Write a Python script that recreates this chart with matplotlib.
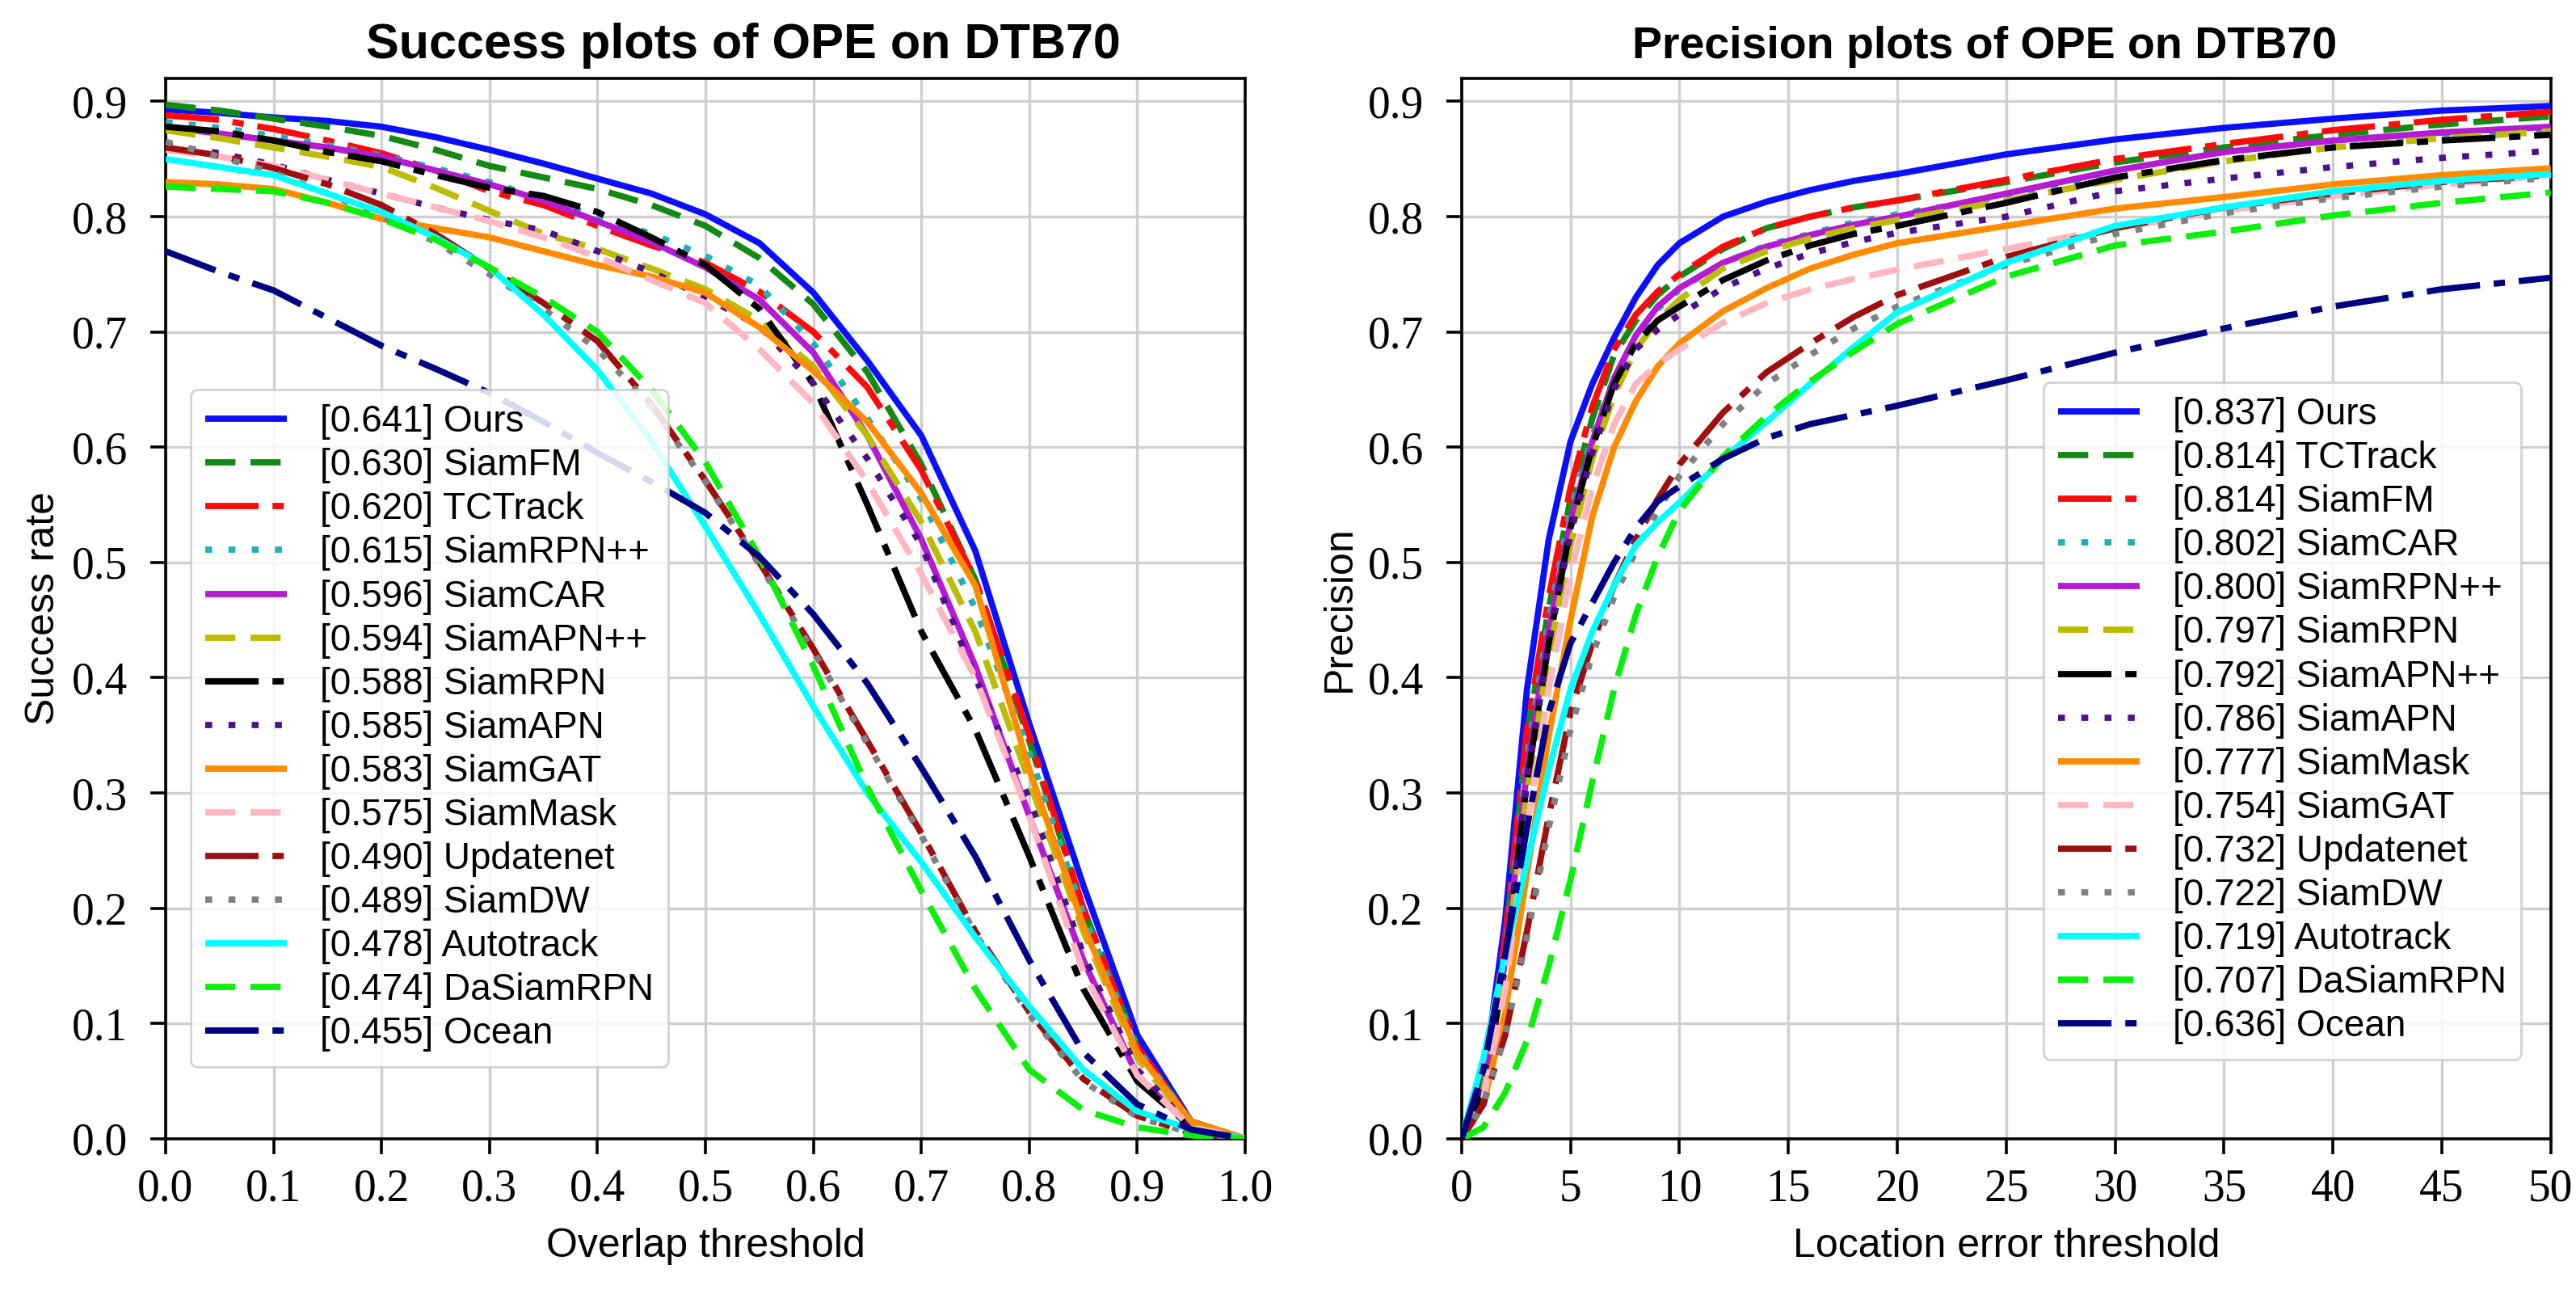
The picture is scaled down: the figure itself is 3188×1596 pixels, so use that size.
import matplotlib
matplotlib.use("Agg")
import matplotlib.pyplot as plt
import numpy as np

# ---------------- data ----------------
succ_x = [0.0, 0.05, 0.1, 0.15, 0.2, 0.25, 0.3, 0.35, 0.4, 0.45, 0.5,
          0.55, 0.6, 0.65, 0.7, 0.75, 0.8, 0.85, 0.9, 0.95, 1.0]

succ_names = ["Ours", "SiamFM", "TCTrack", "SiamRPN++", "SiamCAR", "SiamAPN++",
              "SiamRPN", "SiamAPN", "SiamGAT", "SiamMask", "Updatenet", "SiamDW",
              "Autotrack", "DaSiamRPN", "Ocean"]
succ_scores = [0.641, 0.630, 0.620, 0.615, 0.596, 0.594, 0.588, 0.585, 0.583,
               0.575, 0.490, 0.489, 0.478, 0.474, 0.455]

succ_ours = [0.893, 0.890, 0.886, 0.883, 0.878, 0.869, 0.858, 0.846, 0.833, 0.820, 0.802,
             0.777, 0.734, 0.675, 0.610, 0.510, 0.360, 0.220, 0.090, 0.015, 0.0]
succ_siamfm = [0.897, 0.892, 0.885, 0.878, 0.870, 0.858, 0.844, 0.834, 0.824, 0.810, 0.792,
               0.764, 0.724, 0.665, 0.585, 0.485, 0.345, 0.200, 0.080, 0.015, 0.0]
succ_tctrack = [0.888, 0.884, 0.876, 0.866, 0.855, 0.840, 0.822, 0.810, 0.792, 0.775, 0.760,
                0.735, 0.700, 0.652, 0.580, 0.485, 0.350, 0.200, 0.080, 0.015, 0.0]
succ_siamrpnpp = [0.882, 0.877, 0.870, 0.862, 0.853, 0.842, 0.830, 0.815, 0.800, 0.785, 0.766,
                  0.740, 0.690, 0.625, 0.555, 0.460, 0.335, 0.195, 0.078, 0.015, 0.0]
succ_siamcar = [0.878, 0.872, 0.866, 0.860, 0.852, 0.840, 0.828, 0.814, 0.796, 0.778, 0.756,
                0.728, 0.682, 0.610, 0.520, 0.410, 0.280, 0.155, 0.055, 0.010, 0.0]
succ_siamapnpp = [0.875, 0.868, 0.860, 0.852, 0.843, 0.825, 0.805, 0.785, 0.772, 0.755, 0.737,
                  0.710, 0.670, 0.610, 0.535, 0.440, 0.310, 0.180, 0.070, 0.013, 0.0]
succ_siamrpn = [0.878, 0.874, 0.866, 0.856, 0.848, 0.836, 0.825, 0.818, 0.804, 0.782, 0.758,
                0.720, 0.655, 0.550, 0.440, 0.355, 0.245, 0.130, 0.050, 0.010, 0.0]
succ_siamapn = [0.862, 0.855, 0.845, 0.832, 0.820, 0.808, 0.797, 0.788, 0.770, 0.752, 0.730,
                0.705, 0.655, 0.590, 0.515, 0.400, 0.295, 0.160, 0.060, 0.012, 0.0]
succ_siamgat = [0.830, 0.828, 0.824, 0.812, 0.798, 0.790, 0.782, 0.770, 0.758, 0.748, 0.734,
                0.704, 0.666, 0.622, 0.560, 0.480, 0.320, 0.185, 0.075, 0.015, 0.0]
succ_siammask = [0.858, 0.852, 0.844, 0.832, 0.820, 0.808, 0.796, 0.782, 0.765, 0.745, 0.725,
                 0.685, 0.638, 0.570, 0.490, 0.400, 0.280, 0.145, 0.055, 0.010, 0.0]
succ_updatenet = [0.860, 0.853, 0.842, 0.828, 0.810, 0.785, 0.755, 0.725, 0.692, 0.637, 0.571,
                  0.500, 0.425, 0.345, 0.265, 0.180, 0.110, 0.052, 0.020, 0.005, 0.0]
succ_siamdw = [0.865, 0.852, 0.838, 0.820, 0.800, 0.778, 0.750, 0.720, 0.685, 0.635, 0.570,
               0.498, 0.423, 0.343, 0.263, 0.178, 0.108, 0.050, 0.019, 0.005, 0.0]
succ_autotrack = [0.850, 0.843, 0.836, 0.820, 0.804, 0.782, 0.756, 0.715, 0.667, 0.605, 0.531,
                  0.455, 0.375, 0.300, 0.240, 0.175, 0.115, 0.060, 0.024, 0.008, 0.0]
succ_dasiamrpn = [0.826, 0.824, 0.822, 0.812, 0.798, 0.780, 0.756, 0.730, 0.700, 0.650, 0.587,
                  0.505, 0.410, 0.305, 0.215, 0.130, 0.060, 0.025, 0.010, 0.003, 0.0]
succ_ocean = [0.770, 0.752, 0.736, 0.712, 0.688, 0.668, 0.647, 0.622, 0.595, 0.570, 0.543,
              0.505, 0.455, 0.395, 0.322, 0.245, 0.155, 0.075, 0.030, 0.008, 0.0]

prec_x = [0, 1, 2, 3, 4, 5, 6, 7, 8, 9, 10, 12, 14, 16, 18, 20, 25, 30, 35, 40, 45, 50]

prec_names = ["Ours", "TCTrack", "SiamFM", "SiamCAR", "SiamRPN++", "SiamRPN",
              "SiamAPN++", "SiamAPN", "SiamMask", "SiamGAT", "Updatenet", "SiamDW",
              "Autotrack", "DaSiamRPN", "Ocean"]
prec_scores = [0.837, 0.814, 0.814, 0.802, 0.800, 0.797, 0.792, 0.786, 0.777,
               0.754, 0.732, 0.722, 0.719, 0.707, 0.636]

prec_ours = [0.0, 0.050, 0.190, 0.390, 0.520, 0.605, 0.655, 0.695, 0.730, 0.758, 0.777,
             0.800, 0.813, 0.823, 0.831, 0.837, 0.854, 0.867, 0.877, 0.885, 0.892, 0.896]
prec_tctrack = [0.0, 0.045, 0.170, 0.350, 0.460, 0.555, 0.625, 0.680, 0.710, 0.732, 0.748,
                0.772, 0.790, 0.800, 0.808, 0.814, 0.830, 0.847, 0.860, 0.871, 0.880, 0.887]
prec_siamfm = [0.0, 0.045, 0.175, 0.355, 0.470, 0.565, 0.635, 0.685, 0.715, 0.735, 0.750,
               0.774, 0.790, 0.800, 0.808, 0.814, 0.832, 0.850, 0.863, 0.875, 0.884, 0.891]
prec_siamcar = [0.0, 0.040, 0.160, 0.330, 0.450, 0.545, 0.610, 0.660, 0.695, 0.720, 0.737,
                0.760, 0.775, 0.785, 0.795, 0.802, 0.818, 0.834, 0.848, 0.860, 0.868, 0.873]
prec_siamrpnpp = [0.0, 0.040, 0.155, 0.320, 0.440, 0.535, 0.605, 0.660, 0.697, 0.722, 0.738,
                  0.760, 0.774, 0.784, 0.793, 0.800, 0.820, 0.840, 0.856, 0.866, 0.873, 0.878]
prec_siamrpn = [0.0, 0.040, 0.145, 0.300, 0.420, 0.515, 0.590, 0.645, 0.685, 0.710, 0.728,
                0.755, 0.770, 0.781, 0.790, 0.797, 0.814, 0.832, 0.848, 0.860, 0.868, 0.874]
prec_siamapnpp = [0.0, 0.040, 0.150, 0.310, 0.430, 0.530, 0.600, 0.655, 0.690, 0.710, 0.722,
                  0.745, 0.762, 0.775, 0.785, 0.792, 0.812, 0.834, 0.849, 0.860, 0.866, 0.871]
prec_siamapn = [0.0, 0.040, 0.150, 0.310, 0.430, 0.525, 0.595, 0.650, 0.685, 0.702, 0.715,
                0.738, 0.755, 0.768, 0.778, 0.786, 0.800, 0.822, 0.833, 0.843, 0.851, 0.857]
prec_siammask = [0.0, 0.030, 0.110, 0.230, 0.350, 0.450, 0.540, 0.600, 0.640, 0.670, 0.690,
                 0.718, 0.738, 0.755, 0.767, 0.777, 0.792, 0.807, 0.817, 0.828, 0.836, 0.842]
prec_siamgat = [0.0, 0.035, 0.130, 0.270, 0.390, 0.490, 0.565, 0.620, 0.655, 0.672, 0.685,
                0.708, 0.725, 0.737, 0.746, 0.754, 0.772, 0.790, 0.805, 0.818, 0.828, 0.836]
prec_updatenet = [0.0, 0.030, 0.090, 0.180, 0.280, 0.370, 0.430, 0.480, 0.520, 0.555, 0.585,
                  0.630, 0.665, 0.690, 0.713, 0.732, 0.765, 0.790, 0.808, 0.820, 0.830, 0.836]
prec_siamdw = [0.0, 0.030, 0.090, 0.175, 0.270, 0.355, 0.420, 0.470, 0.510, 0.545, 0.575,
               0.620, 0.655, 0.680, 0.703, 0.722, 0.758, 0.785, 0.803, 0.816, 0.826, 0.834]
prec_autotrack = [0.0, 0.070, 0.160, 0.240, 0.320, 0.390, 0.440, 0.480, 0.515, 0.535, 0.552,
                  0.590, 0.622, 0.655, 0.687, 0.717, 0.760, 0.792, 0.808, 0.822, 0.831, 0.837]
prec_dasiamrpn = [0.0, 0.010, 0.040, 0.085, 0.150, 0.225, 0.310, 0.390, 0.455, 0.505, 0.545,
                  0.592, 0.627, 0.657, 0.683, 0.707, 0.748, 0.775, 0.787, 0.801, 0.812, 0.821]
prec_ocean = [0.0, 0.060, 0.160, 0.270, 0.370, 0.430, 0.465, 0.500, 0.530, 0.553, 0.566,
              0.590, 0.608, 0.620, 0.628, 0.636, 0.658, 0.682, 0.703, 0.722, 0.737, 0.747]

succ_curves = [succ_ours, succ_siamfm, succ_tctrack, succ_siamrpnpp, succ_siamcar,
               succ_siamapnpp, succ_siamrpn, succ_siamapn, succ_siamgat, succ_siammask,
               succ_updatenet, succ_siamdw, succ_autotrack, succ_dasiamrpn, succ_ocean]
prec_curves = [prec_ours, prec_tctrack, prec_siamfm, prec_siamcar, prec_siamrpnpp,
               prec_siamrpn, prec_siamapnpp, prec_siamapn, prec_siammask, prec_siamgat,
               prec_updatenet, prec_siamdw, prec_autotrack, prec_dasiamrpn, prec_ocean]

# ---------------- styles (by rank) ----------------
DASH = (4.8, 2.4)
DASHDOT = (8.5, 2.2, 1.8, 2.2)
DOT = (1.1, 2.6)
styles = [
    ("#0a10ff", None),
    ("#138a13", DASH),
    ("#ff0a0a", DASHDOT),
    ("#1fb0b8", DOT),
    ("#b41bd2", None),
    ("#bcbc05", DASH),
    ("#000000", DASHDOT),
    ("#500f8c", DOT),
    ("#ff8c00", None),
    ("#ffb6c1", DASH),
    ("#a00f0f", DASHDOT),
    ("#808080", DOT),
    ("#00ffff", None),
    ("#0af00a", DASH),
    ("#000084", DASHDOT),
]

SANS = "Liberation Sans"
SERIF = "Liberation Serif"
LW = 2.8

fig = plt.figure(figsize=(15.94, 7.98), dpi=200, facecolor="white")
ax1 = fig.add_axes([0.0643, 0.1172, 0.4191, 0.8221])
ax2 = fig.add_axes([0.5674, 0.1172, 0.4228, 0.8221])


def draw(ax, xs, curves, names, scores):
    for i, (ys, name, sc) in enumerate(zip(curves, names, scores)):
        col, dash = styles[i]
        line, = ax.plot(xs, ys, color=col, lw=LW, label=f"[{sc:.3f}] {name}",
                        solid_capstyle="butt", dash_capstyle="butt", zorder=3)
        if dash is not None:
            line.set_dashes(dash)


def style_axes(ax):
    ax.grid(True, color="#cfcfcf", lw=1.2, zorder=0)
    ax.set_axisbelow(True)
    for s in ax.spines.values():
        s.set_color("black")
        s.set_linewidth(1.3)
    ax.tick_params(direction="out", length=7, width=1.3, labelsize=20, colors="black")
    ax.tick_params(axis="x", pad=6)
    ax.tick_params(axis="y", pad=10)
    for lab in ax.get_xticklabels() + ax.get_yticklabels():
        lab.set_fontfamily(SERIF)


def add_legend(ax, loc, anchor):
    leg = ax.legend(loc=loc, bbox_to_anchor=anchor, prop={"family": SANS, "size": 16.5},
                    handlelength=2.2, handletextpad=0.9, labelspacing=0.22, borderpad=0.4,
                    borderaxespad=0.0, fancybox=True, framealpha=0.85, edgecolor="#cccccc")
    leg.set_zorder(5)
    for h in leg.get_lines():
        h.set_linewidth(LW)
    return leg


draw(ax1, succ_x, succ_curves, succ_names, succ_scores)
ax1.set_xlim(0, 1.0)
ax1.set_ylim(0, 0.92)
ax1.set_xticks([0.0, 0.1, 0.2, 0.3, 0.4, 0.5, 0.6, 0.7, 0.8, 0.9, 1.0])
ax1.set_yticks([0.0, 0.1, 0.2, 0.3, 0.4, 0.5, 0.6, 0.7, 0.8, 0.9])
ax1.set_xticklabels([f"{v:.1f}" for v in ax1.get_xticks()])
ax1.set_yticklabels([f"{v:.1f}" for v in ax1.get_yticks()])
style_axes(ax1)
ax1.set_xlabel("Overlap threshold", fontsize=18, family=SANS, labelpad=8)
ax1.set_ylabel("Success rate", fontsize=18, family=SANS, labelpad=4)
ax1.set_title("Success plots of OPE on DTB70", fontsize=22, family=SANS,
              fontweight="bold", pad=9, x=0.535)
add_legend(ax1, "lower left", (0.023, 0.068))

draw(ax2, prec_x, prec_curves, prec_names, prec_scores)
ax2.set_xlim(0, 50)
ax2.set_ylim(0, 0.92)
ax2.set_xticks([0, 5, 10, 15, 20, 25, 30, 35, 40, 45, 50])
ax2.set_yticks([0.0, 0.1, 0.2, 0.3, 0.4, 0.5, 0.6, 0.7, 0.8, 0.9])
ax2.set_xticklabels([f"{int(v)}" for v in ax2.get_xticks()])
ax2.set_yticklabels([f"{v:.1f}" for v in ax2.get_yticks()])
style_axes(ax2)
ax2.set_xlabel("Location error threshold", fontsize=18, family=SANS, labelpad=8)
ax2.set_ylabel("Precision", fontsize=18, family=SANS, labelpad=4)
ax2.set_title("Precision plots of OPE on DTB70", fontsize=20, family=SANS,
              fontweight="bold", pad=9, x=0.48)
add_legend(ax2, "lower right", (0.973, 0.075))

fig.savefig("out.png", dpi=200, facecolor="white")
